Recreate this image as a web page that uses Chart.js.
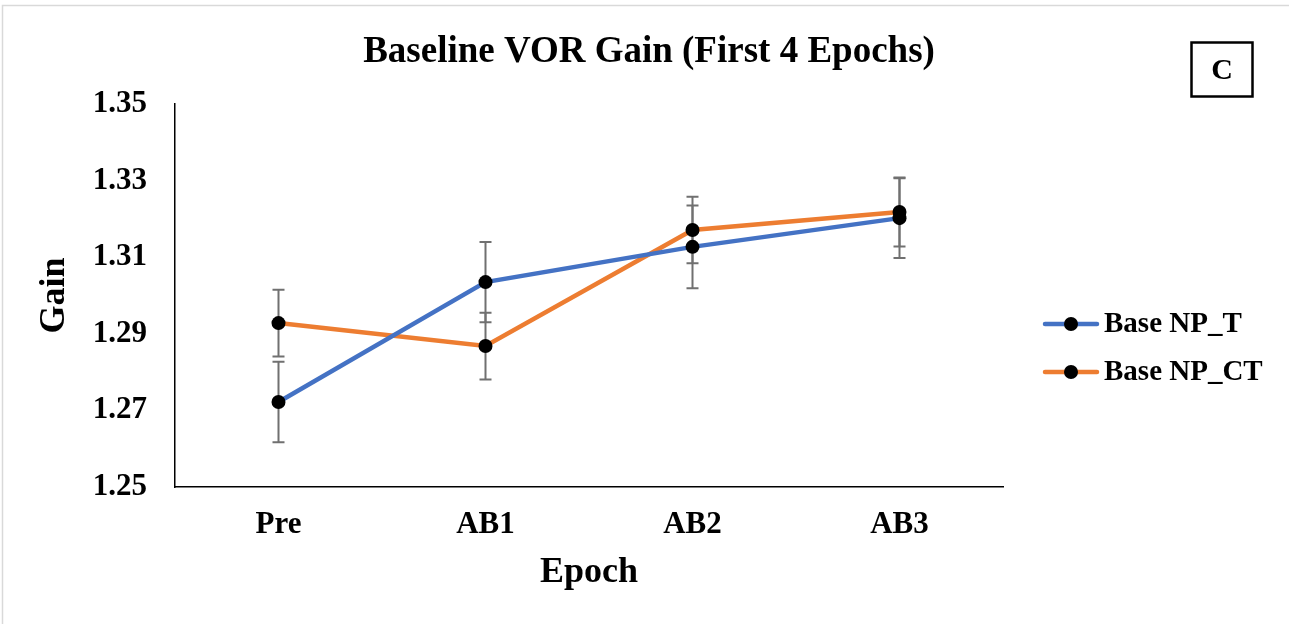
<!DOCTYPE html>
<html>
<head>
<meta charset="utf-8">
<script src="https://cdn.jsdelivr.net/npm/chart.js@4/dist/chart.umd.min.js"></script>
<style>
  html, body { margin: 0; padding: 0; background: #fff; overflow: hidden; }
  #wrap { position: absolute; left: 0; top: 0; width: 1289px; height: 624px; }
</style>
</head>
<body>
<div id="wrap"><canvas id="chart" width="1289" height="624"></canvas></div>
<script>
// Baseline VOR gain over the first four epochs, two groups, mean ± SEM
const categories = ['Pre', 'AB1', 'AB2', 'AB3'];
const seriesNames = ['Base NP_T', 'Base NP_CT'];
const gainT = [1.2722, 1.3035, 1.3127, 1.3202];
const gainCT = [1.2928, 1.2868, 1.3171, 1.3218];
const errT = [0.0105, 0.0105, 0.0108, 0.0104];
const errCT = [0.0087, 0.0087, 0.0087, 0.0090];
const yTickValues = [1.25, 1.27, 1.29, 1.31, 1.33, 1.35];
const chartTitle = 'Baseline VOR Gain (First 4 Epochs)';
const xTitle = 'Epoch';
const yTitle = 'Gain';
const panelLabel = 'C';

const SERIF = "'Liberation Serif', 'Times New Roman', serif";
const BLUE = '#4472C4';
const ORANGE = '#ED7D31';

// Page frame, title and panel letter
const decorations = {
  id: 'decorations',
  beforeDraw(chart) {
    const ctx = chart.ctx;
    ctx.save();
    ctx.fillStyle = '#fff';
    ctx.fillRect(0, 0, chart.width, chart.height);
    ctx.strokeStyle = '#d9d9d9';
    ctx.lineWidth = 1.5;
    ctx.beginPath();
    ctx.moveTo(2.5, chart.height);
    ctx.lineTo(2.5, 5.5);
    ctx.lineTo(chart.width, 5.5);
    ctx.stroke();
    ctx.restore();
  },
  afterDraw(chart) {
    const ctx = chart.ctx;
    ctx.save();
    ctx.fillStyle = '#000';
    ctx.font = 'bold 37px ' + SERIF;
    ctx.textAlign = 'center';
    ctx.textBaseline = 'alphabetic';
    ctx.fillText(chartTitle, 649, 62);
    // panel letter box
    ctx.strokeStyle = '#000';
    ctx.lineWidth = 2.5;
    ctx.strokeRect(1191.5, 42.5, 61, 54);
    ctx.font = 'bold 30px ' + SERIF;
    ctx.textBaseline = 'middle';
    ctx.fillText(panelLabel, 1222, 71);
    ctx.restore();
  }
};

// Vertical error bars with caps, drawn from each dataset's error array
const errorBars = {
  id: 'errorBars',
  beforeDatasetsDraw(chart) {
    const ctx = chart.ctx;
    const y = chart.scales.y;
    ctx.save();
    ctx.strokeStyle = '#707070';
    ctx.lineWidth = 2;
    chart.data.datasets.forEach((ds, i) => {
      const meta = chart.getDatasetMeta(i);
      meta.data.forEach((pt, j) => {
        const v = ds.data[j];
        const e = ds.errors[j];
        const top = y.getPixelForValue(v + e);
        const bot = y.getPixelForValue(v - e);
        const x = pt.x;
        ctx.beginPath();
        ctx.moveTo(x, top); ctx.lineTo(x, bot);
        ctx.moveTo(x - 6, top); ctx.lineTo(x + 6, top);
        ctx.moveTo(x - 6, bot); ctx.lineTo(x + 6, bot);
        ctx.stroke();
      });
    });
    ctx.restore();
  }
};

// Legend to the right of the plot
const sideLegend = {
  id: 'sideLegend',
  afterDraw(chart) {
    const ctx = chart.ctx;
    ctx.save();
    const rows = [324, 372];
    chart.data.datasets.forEach((ds, i) => {
      const yy = rows[i];
      ctx.strokeStyle = ds.borderColor;
      ctx.lineWidth = 4.5;
      ctx.lineCap = 'round';
      ctx.beginPath();
      ctx.moveTo(1045, yy); ctx.lineTo(1097, yy);
      ctx.stroke();
      ctx.fillStyle = '#000';
      ctx.beginPath();
      ctx.arc(1071, yy, 7, 0, Math.PI * 2);
      ctx.fill();
      ctx.font = 'bold 29px ' + SERIF;
      ctx.textAlign = 'left';
      ctx.textBaseline = 'middle';
      ctx.fillText(ds.label, 1104, yy + 1);
    });
    ctx.restore();
  }
};

function makeSeries(label, values, errs, color) {
  return {
    label: label,
    data: values,
    errors: errs,
    borderColor: color,
    backgroundColor: color,
    borderWidth: 4.5,
    tension: 0,
    pointRadius: 7,
    pointHoverRadius: 7,
    pointBackgroundColor: '#000',
    pointBorderColor: '#000',
    pointBorderWidth: 0
  };
}

new Chart(document.getElementById('chart'), {
  type: 'line',
  data: {
    labels: categories,
    datasets: [
      makeSeries(seriesNames[0], gainT, errT, BLUE),
      makeSeries(seriesNames[1], gainCT, errCT, ORANGE)
    ]
  },
  options: {
    responsive: false,
    animation: false,
    devicePixelRatio: 1,
    layout: { padding: { top: 104, right: 286, bottom: 0, left: 0 } },
    plugins: {
      legend: { display: false },
      title: { display: false },
      tooltip: { enabled: false }
    },
    scales: {
      x: {
        type: 'category',
        offset: true,
        grid: { display: false, drawTicks: false },
        border: { display: true, color: '#000', width: 1.5 },
        ticks: {
          color: '#000',
          padding: 19,
          font: { family: SERIF, size: 31, weight: 'bold' }
        },
        title: {
          display: true,
          text: xTitle,
          color: '#000',
          padding: { top: 0, bottom: 30 },
          font: { family: SERIF, size: 36, weight: 'bold' }
        },
        afterFit(scale) { scale.height = 137; }
      },
      y: {
        min: yTickValues[0],
        max: yTickValues[yTickValues.length - 1],
        grid: { display: false, drawTicks: false },
        border: { display: true, color: '#000', width: 1.5 },
        afterBuildTicks(scale) {
          scale.ticks = yTickValues.map(v => ({ value: v }));
        },
        ticks: {
          color: '#000',
          padding: 28,
          font: { family: SERIF, size: 31, weight: 'bold' },
          callback: v => Number(v).toFixed(2)
        },
        title: {
          display: true,
          text: yTitle,
          color: '#000',
          padding: { top: 33, bottom: 0 },
          font: { family: SERIF, size: 36, weight: 'bold' }
        },
        afterFit(scale) { scale.width = 175; }
      }
    }
  },
  plugins: [decorations, errorBars, sideLegend]
});
</script>
</body>
</html>
